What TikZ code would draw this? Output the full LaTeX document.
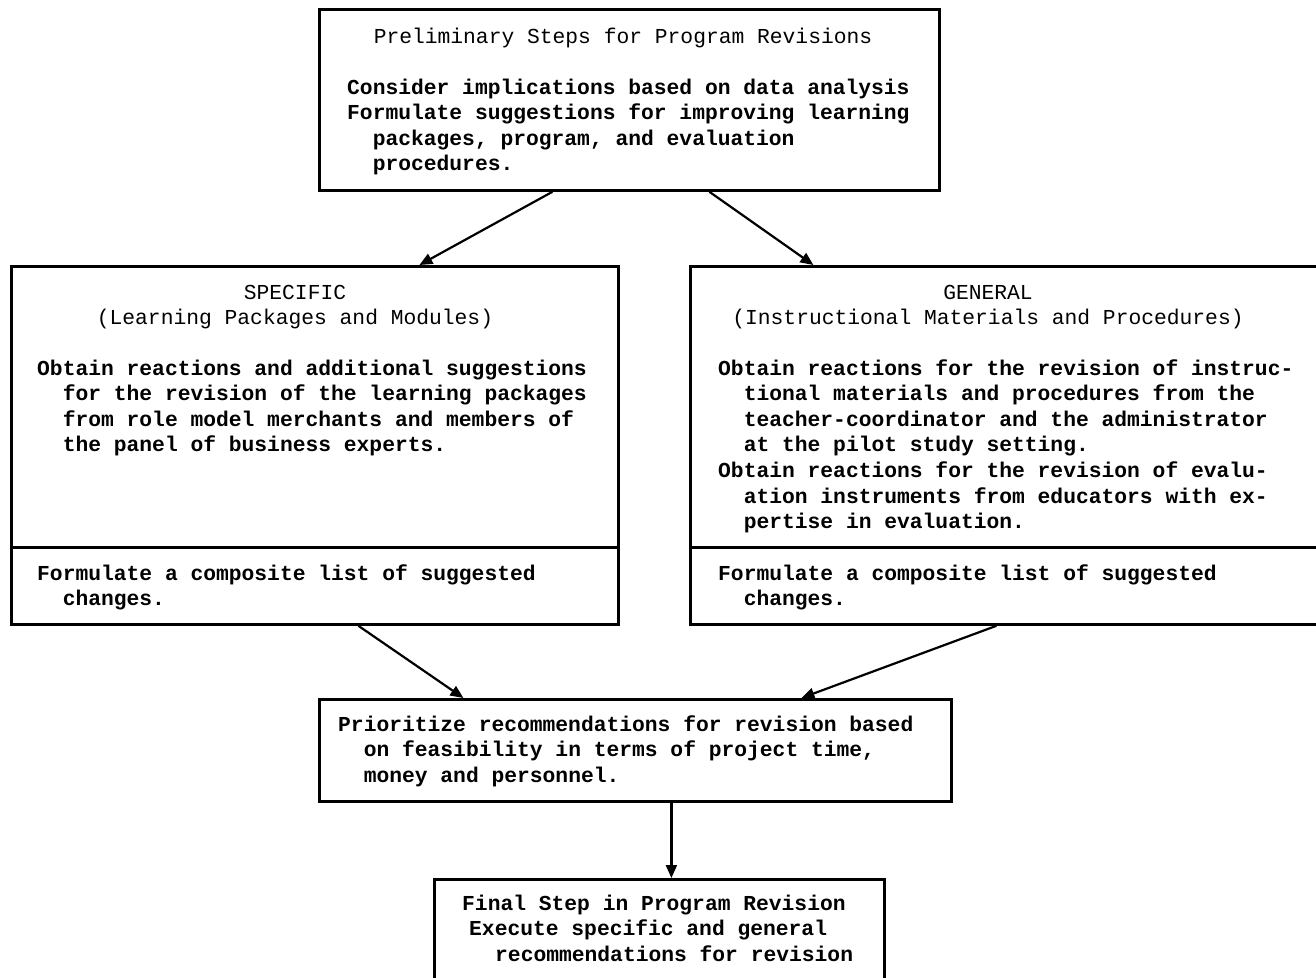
\documentclass[tikz,border=0pt]{standalone}
\usepackage{fontspec}
\newfontfamily\tw{Liberation Mono}
\usetikzlibrary{arrows.meta}
\newcommand\ind{\phantom{xx}}
\newcommand\blk[1]{\begin{tabular}[t]{@{}l@{}}#1\end{tabular}}
\newcommand\cblk[1]{\begin{tabular}[t]{@{}c@{}}#1\end{tabular}}
\begin{document}
\begin{tikzpicture}[x=1pt,y=-1pt,
  box/.style={draw=black, line width=2.8pt, rectangle, inner sep=0pt, anchor=north west},
  txt/.style={anchor=base west, inner sep=0pt, font=\tw\bfseries\fontsize{21.3}{25.6}\selectfont},
  hd/.style={anchor=base, inner sep=0pt, font=\tw\fontsize{21.3}{25.6}\selectfont},
  arr/.style={draw=black, line width=2.2pt, -{Triangle[length=13pt,width=11pt]}}]
\useasboundingbox (0,0) rectangle (1316,977);
\fill[white] (0,0) rectangle (1316,977);
% boxes
\node[box, minimum width=620pt, minimum height=181pt] (prelim) at (318,8) {};
\node[box, minimum width=607pt, minimum height=281pt] (specTop) at (10,265) {};
\node[box, minimum width=607pt, minimum height=77pt] (specBot) at (10,546) {};
\node[box, minimum width=640pt, minimum height=281pt] (genTop) at (689,265) {};
\node[box, minimum width=640pt, minimum height=77pt] (genBot) at (689,546) {};
\node[box, minimum width=632pt, minimum height=102pt] (prior) at (318,698) {};
\node[box, minimum width=450pt, minimum height=130pt] (final) at (433,878) {};
% texts
\node[hd] (prelimHd) at (623,43) {Preliminary Steps for Program Revisions};
\node[txt] (prelimTx) at (347,94) {\blk{Consider implications based on data analysis\\
Formulate suggestions for improving learning\\
\ind packages, program, and evaluation\\
\ind procedures.}};
\node[hd] (specHd) at (295,299) {\cblk{SPECIFIC\\(Learning Packages and Modules)}};
\node[txt] (specTx) at (37,375) {\blk{Obtain reactions and additional suggestions\\
\ind for the revision of the learning packages\\
\ind from role model merchants and members of\\
\ind the panel of business experts.}};
\node[txt] (specBt) at (37,580) {\blk{Formulate a composite list of suggested\\
\ind changes.}};
\node[hd] (genHd) at (988,299) {\cblk{GENERAL\\(Instructional Materials and Procedures)}};
\node[txt] (genTx) at (718,375) {\blk{Obtain reactions for the revision of instruc-\\
\ind tional materials and procedures from the\\
\ind teacher-coordinator and the administrator\\
\ind at the pilot study setting.\\
Obtain reactions for the revision of evalu-\\
\ind ation instruments from educators with ex-\\
\ind pertise in evaluation.}};
\node[txt] (genBt) at (718,580) {\blk{Formulate a composite list of suggested\\
\ind changes.}};
\node[txt] (priorTx) at (338,731) {\blk{Prioritize recommendations for revision based\\
\ind on feasibility in terms of project time,\\
\ind money and personnel.}};
\node[txt] (finalTx) at (462,910) {\blk{Final Step in Program Revision\\
\hspace*{7pt}Execute specific and general\\
\hspace*{33pt}recommendations for revision}};
% connectors
\draw[arr] ([xshift=-77pt]prelim.south) -- ([xshift=104.5pt]specTop.north);
\draw[arr] ([xshift=80pt]prelim.south) -- ([xshift=-197pt]genTop.north);
\draw[arr] ([xshift=43.5pt]specBot.south) -- ([xshift=-172pt]prior.north);
\draw[arr] ([xshift=-14pt]genBot.south) -- ([xshift=166pt]prior.north);
\draw[arr] ([xshift=36pt]prior.south) -- ([xshift=12pt]final.north);
\end{tikzpicture}
\end{document}
